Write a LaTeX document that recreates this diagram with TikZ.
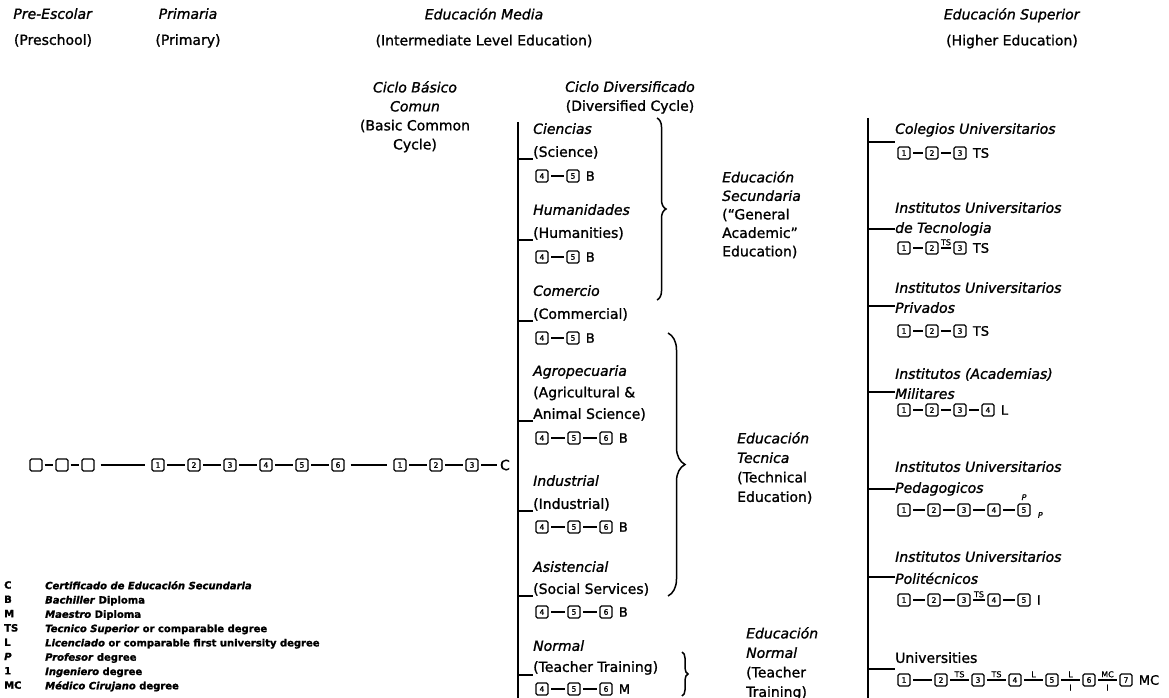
\documentclass[tikz,border=0pt]{standalone}
\usepackage{fontspec}
\setmainfont{DejaVu Sans}[FakeBold=1.2]
\usetikzlibrary{positioning,decorations.pathreplacing}

\begin{document}
\begin{tikzpicture}[x=1pt,y=-1pt,
    txt/.style={inner sep=0pt, align=left, anchor=north west, font=\fontsize{14}{23}\selectfont},
    head/.style={inner sep=0pt, align=center, anchor=north, font=\fontsize{14}{26}\selectfont},
    yr/.style={draw, line width=1.3pt, rounded corners=1.5pt, minimum size=12pt, inner sep=0pt, font=\fontsize{7.5}{7.5}\selectfont},
    lnk/.style={line width=1.4pt, shorten <=2.5pt, shorten >=2.5pt},
    deg/.style={inner sep=0pt, font=\fontsize{13}{13}\selectfont},
    tag/.style={inner sep=0pt, font=\fontsize{8}{8}\selectfont},
    trunk/.style={line width=1.8pt},
    tick/.style={line width=1.5pt},
    curly/.style={line width=1.5pt, decorate, decoration={brace, amplitude=#1}}
  ]
  \useasboundingbox (0,0) rectangle (1169,698);
  \fill[white] (0,0) rectangle (1169,698);

  % column heads
  \node[head] (pre) at (53,8) {\textit{Pre-Escolar}\\(Preschool)};
  \node[head] (prim) at (188,8) {\textit{Primaria}\\(Primary)};
  \node[head] (media) at (484,8) {\textit{Educación Media}\\(Intermediate Level Education)};
  \node[head] (sup) at (1012,8) {\textit{Educación Superior}\\(Higher Education)};
  \node[head, font=\fontsize{14}{19}\selectfont] (basico) at (415,81) {\textit{Ciclo Básico}\\\textit{Comun}\\(Basic Common\\Cycle)};
  \node[head, font=\fontsize{14}{19}\selectfont] (divers) at (630,81) {\textit{Ciclo Diversificado}\\(Diversified Cycle)};

  % preschool, primary and basic cycle
  \foreach \k/\x in {1/36,2/62,3/88}
    \node[yr] (pre-\k) at (\x,465) {};
  \foreach \k in {1,...,6}
    \node[yr] (pri-\k) at ({158+36*(\k-1)},465) {\k};
  \foreach \k in {1,2,3}
    \node[yr] (med-\k) at ({400+36*(\k-1)},465) {\k};
  \node[deg, font=\fontsize{14}{14}\selectfont] (cert) at (505,465) {C};
  \draw[lnk, shorten <=2pt, shorten >=2pt] (pre-1) -- (pre-2);
  \draw[lnk, shorten <=2pt, shorten >=2pt] (pre-2) -- (pre-3);
  \draw[lnk, shorten <=6pt, shorten >=6pt] (pre-3) -- (pri-1);
  \foreach \a/\b in {1/2,2/3,3/4,4/5,5/6}
    \draw[lnk] (pri-\a) -- (pri-\b);
  \draw[lnk, shorten <=6pt, shorten >=6pt] (pri-6) -- (med-1);
  \draw[lnk] (med-1) -- (med-2);
  \draw[lnk] (med-2) -- (med-3);
  \draw[lnk] (med-3) -- (cert);

  % diversified cycle
  \coordinate (mtop) at (518,122);
  \coordinate (mbot) at (518,698);
  \draw[trunk] (mtop) -- (mbot);
  \node[txt] (cien) at (533,123) {\textit{Ciencias}\\(Science)};
  \node[txt] (hum) at (533,204) {\textit{Humanidades}\\(Humanities)};
  \node[txt] (com) at (533,285) {\textit{Comercio}\\(Commercial)};
  \node[txt, font=\fontsize{14}{21.5}\selectfont] (agro) at (533,365) {\textit{Agropecuaria}\\(Agricultural \&\\Animal Science)};
  \node[txt] (ind) at (533,475) {\textit{Industrial}\\(Industrial)};
  \node[txt, font=\fontsize{14}{22}\selectfont] (asis) at (533,561) {\textit{Asistencial}\\(Social Services)};
  \node[txt, font=\fontsize{14}{21}\selectfont] (norm) at (533,640) {\textit{Normal}\\(Teacher Training)};
  \foreach \r in {cien,hum,com,agro,ind,asis,norm}
    \draw[tick] (\r.south west -| mtop) -- (\r.south west);

  \foreach \r/\y in {cien/176,hum/257,com/338} {
    \foreach \k [count=\i from 0] in {4,5}
      \node[yr] (\r-\k) at (542+31*\i,\y) {\k};
    \draw[lnk] (\r-4) -- (\r-5);
    \node[deg, right=6pt of \r-5] (\r-deg) {B};
  }
  \foreach \r/\y/\d in {agro/438/B,ind/527/B,asis/612/B,norm/689/M} {
    \foreach \k [count=\i from 0] in {4,5,6}
      \node[yr] (\r-\k) at (542+32*\i,\y) {\k};
    \draw[lnk] (\r-4) -- (\r-5);
    \draw[lnk] (\r-5) -- (\r-6);
    \node[deg, right=6pt of \r-6] (\r-deg) {\d};
  }

  % braces
  \draw[curly=9pt] (657,118) -- (657,300);
  \draw[curly=17pt] (668,333) -- (668,596);
  \draw[curly=6pt] (682,652) -- (682,696);
  \node[txt, font=\fontsize{14}{18.5}\selectfont] (secun) at (722,171) {\textit{Educación}\\\textit{Secundaria}\\(``General\\Academic''\\Education)};
  \node[txt, font=\fontsize{14}{19.5}\selectfont] (tecnica) at (737,432) {\textit{Educación}\\\textit{Tecnica}\\(Technical\\Education)};
  \node[txt, font=\fontsize{14}{19.5}\selectfont] (normal) at (746,627) {\textit{Educación}\\\textit{Normal}\\(Teacher\\Training)};

  % higher education
  \coordinate (rtop) at (868,118);
  \coordinate (rbot) at (868,698);
  \draw[trunk] (rtop) -- (rbot);
  \node[txt, font=\fontsize{14}{20}\selectfont] (colg) at (895,123) {\textit{Colegios Universitarios}};
  \node[txt, font=\fontsize{14}{20}\selectfont] (tecn) at (895,202) {\textit{Institutos Universitarios}\\\textit{de Tecnologia}};
  \node[txt, font=\fontsize{14}{20}\selectfont] (priv) at (895,282) {\textit{Institutos Universitarios}\\\textit{Privados}};
  \node[txt, font=\fontsize{14}{20}\selectfont] (mil) at (895,368) {\textit{Institutos (Academias)}\\\textit{Militares}};
  \node[txt, font=\fontsize{14}{21}\selectfont] (ped) at (895,461) {\textit{Institutos Universitarios}\\\textit{Pedagogicos}};
  \node[txt, font=\fontsize{14}{22}\selectfont] (pol) at (895,551) {\textit{Institutos Universitarios}\\\textit{Politécnicos}};
  \node[txt] (univ) at (895,652) {Universities};
  \draw[tick] ([yshift=-5pt]colg.south west -| rtop) -- ([yshift=-5pt]colg.south west);
  \foreach \r in {tecn,priv,mil,ped,pol}
    \draw[tick] ([yshift=7pt]\r.south west -| rtop) -- ([yshift=7pt]\r.south west);
  \draw[tick] ([yshift=-6pt]univ.south west -| rtop) -- ([yshift=-6pt]univ.south west);

  \foreach \r/\y/\n/\p/\d in {colg/153/3/28/TS,tecn/248/3/28/TS,priv/331/3/28/TS,mil/410/4/28/L,ped/510/5/30/,pol/600/5/30/I} {
    \foreach \k in {1,...,\n}
      \node[yr] (\r-\k) at ({904+\p*(\k-1)},\y) {\k};
    \node[deg, right=6pt of \r-\n] (\r-deg) {\d};
  }
  \draw[lnk] (colg-1) -- (colg-2);
  \draw[lnk] (colg-2) -- (colg-3);
  \draw[lnk] (tecn-1) -- (tecn-2);
  \draw[lnk] (tecn-2) -- node[tag, above=2pt] (tecn-ts) {TS} (tecn-3);
  \draw[lnk] (priv-1) -- (priv-2);
  \draw[lnk] (priv-2) -- (priv-3);
  \foreach \a/\b in {1/2,2/3,3/4}
    \draw[lnk] (mil-\a) -- (mil-\b);
  \foreach \a/\b in {1/2,2/3,3/4,4/5}
    \draw[lnk] (ped-\a) -- (ped-\b);
  \node[tag, above=3pt of ped-5] (ped-p) {\textit{P}};
  \node[tag, right=7pt of ped-5, yshift=-5pt] (ped-q) {\textit{P}};
  \draw[lnk] (pol-1) -- (pol-2);
  \draw[lnk] (pol-2) -- (pol-3);
  \draw[lnk] (pol-3) -- node[tag, above=2pt] (pol-ts) {TS} (pol-4);
  \draw[lnk] (pol-4) -- (pol-5);

  \foreach \k in {1,...,7}
    \node[yr] (uni-\k) at ({904+37*(\k-1)},680) {\k};
  \node[deg, right=6pt of uni-7] (uni-deg) {MC};
  \draw[lnk] (uni-1) -- (uni-2);
  \draw[lnk] (uni-2) -- node[tag, above=2pt] (uni-t23) {TS} (uni-3);
  \draw[lnk] (uni-3) -- node[tag, above=2pt] (uni-t34) {TS} (uni-4);
  \draw[lnk] (uni-4) -- node[tag, above=2pt] (uni-t45) {L} (uni-5);
  \draw[lnk] (uni-5) -- node[tag, above=2pt] (uni-t56) {L} node[tag, below=4pt] (uni-i56) {I} (uni-6);
  \draw[lnk] (uni-6) -- node[tag, above=2pt] (uni-t67) {MC} node[tag, below=4pt] (uni-i67) {I} (uni-7);

  % key
  \node[inner sep=0pt, align=left, anchor=north west, font=\fontsize{10}{14.3}\selectfont\bfseries] (keys) at (4,581) {C\\B\\M\\TS\\L\\\textit{P}\\1\\MC};
  \node[inner sep=0pt, align=left, anchor=north west, font=\fontsize{10}{14.3}\selectfont\bfseries] (keytext) at (45,581) {\textit{Certificado de Educación Secundaria}\\\textit{Bachiller} Diploma\\\textit{Maestro} Diploma\\\textit{Tecnico Superior} or comparable degree\\\textit{Licenciado} or comparable first university degree\\\textit{Profesor} degree\\\textit{Ingeniero} degree\\\textit{Médico Cirujano} degree};
\end{tikzpicture}
\end{document}
